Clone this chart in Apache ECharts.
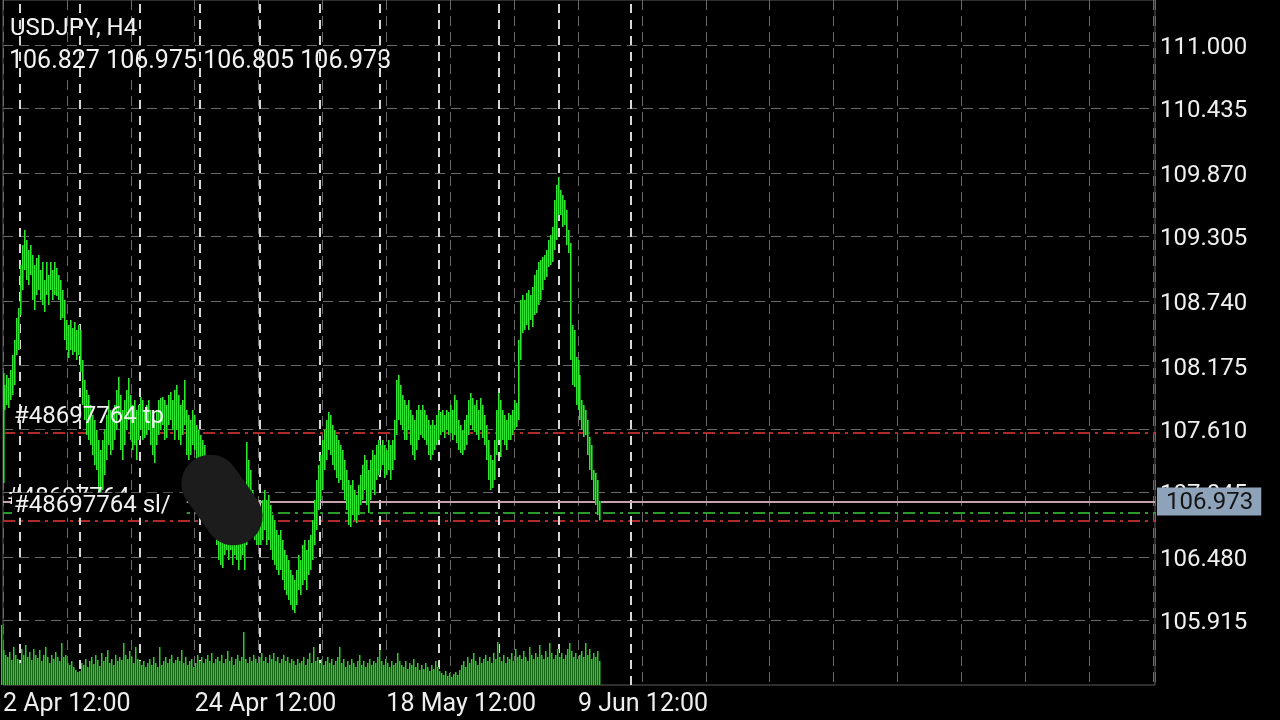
<!DOCTYPE html>
<html><head><meta charset="utf-8">
<script src="https://cdn.jsdelivr.net/npm/echarts@6/dist/echarts.min.js"></script>
<style>html,body{margin:0;padding:0;background:#000;}#c{width:1280px;height:720px;}</style>
</head><body><div id="c"></div>
<script>
const symbolName = 'USDJPY, H4';
const lastOHLC = [106.827, 106.975, 106.805, 106.973];
const highs = [
108.105,107.998,108.086,108.060,108.131,108.263,108.395,108.590,108.678,109.058,
109.234,109.367,109.278,109.190,109.234,109.146,109.058,109.119,109.146,109.013,
109.084,108.925,109.084,108.969,109.084,109.013,109.084,109.031,108.969,108.925,
108.837,108.749,108.572,108.528,108.572,108.501,108.554,108.484,108.528,108.484,
108.219,108.042,107.954,107.910,107.822,107.733,107.689,107.601,107.513,107.424,
107.513,107.601,107.733,107.866,107.777,107.689,107.822,107.954,108.069,107.910,
107.777,107.866,107.954,108.060,107.910,107.822,107.866,107.777,107.822,107.892,
107.866,107.777,107.822,107.866,107.777,107.733,107.689,107.777,107.866,107.884,
107.892,107.866,107.822,107.910,107.936,107.866,107.954,107.998,107.910,107.822,
107.866,108.042,107.777,107.733,107.689,107.777,107.733,107.645,107.601,107.557,
107.513,107.468,107.380,107.336,107.248,107.159,107.071,106.939,106.806,106.762,
106.718,106.806,106.850,106.762,106.806,106.762,106.850,106.806,106.718,106.762,
106.806,106.718,107.495,107.336,107.248,107.071,106.895,106.806,106.762,106.850,
106.983,107.071,106.983,107.027,106.939,106.850,106.806,106.718,106.674,106.718,
106.630,106.542,106.497,106.453,106.365,106.321,106.277,106.365,106.497,106.453,
106.586,106.630,106.542,106.630,106.674,106.806,106.983,107.159,107.292,107.380,
107.513,107.601,107.689,107.760,107.733,107.645,107.601,107.557,107.513,107.468,
107.424,107.336,107.248,107.159,107.115,107.159,107.071,107.027,107.115,107.204,
107.292,107.380,107.336,107.248,107.336,107.424,107.380,107.468,107.513,107.468,
107.513,107.468,107.424,107.513,107.468,107.513,107.689,108.042,108.086,107.998,
107.910,107.866,107.822,107.866,107.777,107.733,107.689,107.777,107.822,107.777,
107.822,107.777,107.733,107.689,107.645,107.689,107.645,107.733,107.777,107.760,
107.777,107.733,107.777,107.760,107.822,107.777,107.910,107.866,107.689,107.645,
107.601,107.689,107.733,107.866,107.928,107.884,107.822,107.866,107.777,107.884,
107.822,107.733,107.645,107.513,107.380,107.336,107.513,107.777,107.928,107.866,
107.777,107.733,107.689,107.751,107.733,107.777,107.866,107.839,108.395,108.749,
108.793,108.749,108.810,108.837,108.793,108.863,108.969,109.013,109.084,109.102,
109.128,109.146,109.190,109.278,109.322,109.393,109.631,109.764,109.834,109.720,
109.676,109.631,109.543,109.367,109.252,108.528,108.484,108.245,108.219,108.086,
107.866,107.822,107.777,107.689,107.539,107.468,107.248,107.221,107.159,106.975
];
const lows = [
107.133,107.777,107.822,107.795,107.866,107.910,107.998,108.263,108.307,108.616,
108.837,109.013,108.925,108.881,108.969,108.749,108.660,108.793,108.837,108.749,
108.704,108.643,108.793,108.704,108.837,108.749,108.793,108.784,108.749,108.572,
108.590,108.395,108.307,108.237,108.307,108.263,108.290,108.219,108.263,108.113,
107.822,107.689,107.557,107.513,107.468,107.380,107.292,107.248,107.027,106.956,
107.071,107.204,107.336,107.468,107.380,107.424,107.513,107.601,107.733,107.424,
107.336,107.468,107.601,107.689,107.513,107.424,107.468,107.336,107.513,107.601,
107.513,107.530,107.557,107.601,107.468,107.380,107.310,107.468,107.557,107.601,
107.645,107.513,107.530,107.645,107.689,107.601,107.513,107.601,107.513,107.468,
107.557,107.645,107.380,107.336,107.380,107.468,107.424,107.318,107.274,107.248,
107.204,107.159,107.071,106.983,106.895,106.806,106.718,106.586,106.453,106.409,
106.383,106.497,106.542,106.453,106.542,106.409,106.497,106.453,106.365,106.453,
106.497,106.365,106.586,106.983,106.806,106.718,106.630,106.586,106.586,106.586,
106.630,106.718,106.586,106.630,106.542,106.453,106.409,106.365,106.321,106.365,
106.277,106.188,106.144,106.100,106.056,106.012,105.985,106.056,106.188,106.144,
106.233,106.277,106.188,106.321,106.365,106.453,106.586,106.718,106.895,106.983,
107.071,107.248,107.336,107.424,107.380,107.292,107.248,107.177,107.133,107.159,
107.071,106.983,106.895,106.762,106.745,106.850,106.806,106.780,106.850,106.939,
106.983,107.071,106.939,106.868,106.983,107.071,107.027,107.159,107.204,107.248,
107.292,107.177,107.204,107.248,107.159,107.248,107.336,107.557,107.689,107.645,
107.601,107.513,107.513,107.601,107.468,107.380,107.336,107.424,107.513,107.557,
107.530,107.513,107.468,107.380,107.336,107.380,107.424,107.468,107.513,107.557,
107.583,107.530,107.601,107.557,107.574,107.513,107.557,107.486,107.424,107.398,
107.380,107.424,107.468,107.557,107.645,107.601,107.583,107.557,107.513,107.601,
107.530,107.468,107.336,107.159,107.071,107.089,107.159,107.380,107.513,107.362,
107.513,107.468,107.424,107.513,107.513,107.557,107.601,107.627,107.689,108.219,
108.457,108.484,108.528,108.484,108.572,108.510,108.616,108.634,108.704,108.749,
108.837,108.925,108.952,109.040,109.058,109.084,109.190,109.278,109.499,109.499,
109.393,109.411,109.234,109.164,108.219,107.998,107.980,107.822,107.777,107.689,
107.601,107.539,107.557,107.380,107.248,107.159,106.983,106.939,106.850,106.805
];
const volumes = [
6000,3500,3000,2800,3300,2500,3800,3000,2600,2200,
3600,3000,4000,2800,3300,2500,3600,3000,2700,3500,
2400,3000,3800,2800,2200,3000,2600,3300,2800,2400,
4200,2800,3000,2200,2000,2400,1800,1500,1300,1400,
2200,2000,2600,1800,2400,2800,2100,3000,2500,1900,
3200,2400,2800,3500,2200,2600,2000,3000,2400,2800,
2500,4200,3000,2600,3400,2800,2200,3800,2600,2400,
2000,2400,1800,2200,2600,2000,2800,2200,1800,3800,
2000,2400,2800,2200,2600,3000,2200,2500,2800,2400,
3500,2200,2800,2000,2400,2600,1800,2200,3000,2400,
2800,2200,2600,3000,2400,3200,2200,2600,2800,2400,
3000,2200,2600,3400,2400,2800,2000,2600,3000,2400,
2800,5300,2600,2200,2800,2400,3000,2600,2200,2800,
3200,2400,2800,2200,3000,2600,3200,2400,2800,2200,
2600,3000,2400,2800,2200,2600,2400,2000,2600,2200,
2400,2800,2000,2600,3200,2200,3800,2400,2800,2200,
2600,2000,2400,2800,2200,2600,2000,2400,2800,3800,
2200,2600,1800,2400,2000,2600,2200,1800,2400,3000,
2000,2400,1800,2200,2600,2000,2400,2200,2800,3500,
2400,2000,2600,2200,1800,2400,2000,2200,3200,2400,
2000,1800,2400,1600,2200,2000,2600,1800,2200,1500,
2000,1600,2200,1800,1400,2000,1600,2400,1800,1400,
1200,1000,1400,900,1200,800,1100,1300,1000,1500,
2000,2400,1800,2800,2200,2600,3200,2400,2000,2800,
2200,2600,3000,2400,2800,2200,3200,2600,4300,2800,
2400,3000,2200,2800,2600,3200,2400,3600,2800,3000,
2600,3400,2800,2400,3800,3000,2600,3200,2800,4000,
3000,2600,3400,2800,4200,3200,2600,3000,3600,2800,
3200,2600,3000,3600,4200,3400,2800,3200,2600,3000,
3400,2800,4200,3000,3600,2600,3200,2800,3400,2400
];
const priceLevels = [105.915, 106.480, 107.045, 107.610, 108.175, 108.740, 109.305, 109.870, 110.435, 111.000];
const timeLabelIdx = [0, 96, 192, 288];
const timeLabels = ['2 Apr 12:00', '24 Apr 12:00', '18 May 12:00', '9 Jun 12:00'];
const weekSeparators = [8.5, 38.5, 68.5, 98.5, 128.5, 158.5, 188.5, 218.5, 248.5, 278.5, 314.5];
const orderTicket = '#48697764';
const tpPrice = 107.584, slPrice = 106.798, openPrice = 106.868;
const bidPrice = lastOHLC[3];

const FONT = 'Roboto';
const BAR_GREEN = '#2ee62e', BAR_EDGE = '#138a13';
const VOL_GREEN = '#32c832', VOL_EDGE = '#126612';
const chart = echarts.init(document.getElementById('c'), null, {renderer: 'canvas'});

function rangeItem(params, api) {
  const isVol = params.seriesName === 'volume';
  const i = api.value(0);
  const a = api.coord([i, api.value(1)]);
  const b = api.coord([i, api.value(2)]);
  const x = Math.floor(a[0]);
  const y = Math.min(a[1], b[1]);
  const h = Math.max(1, Math.abs(a[1] - b[1]));
  return {type: 'group', children: [
    {type: 'rect', shape: {x: x, y: y, width: 2, height: h}, style: {fill: isVol ? VOL_EDGE : BAR_EDGE}},
    {type: 'rect', shape: {x: x, y: y, width: 1, height: h}, style: {fill: isVol ? VOL_GREEN : BAR_GREEN}}
  ]};
}

const dashDot = [12, 5, 3, 5];
const orderLabel = {show: true, position: 'insideStartTop', color: '#f2f2f2', fontSize: 24, fontFamily: FONT, formatter: p => p.name};
const option = {
  backgroundColor: '#000',
  animation: false,
  tooltip: {show: false},
  grid: [
    {left: 1, top: 0, width: 1154, height: 685, show: true, borderColor: '#5e5e5e', borderWidth: 1, backgroundColor: 'transparent'},
    {left: 1, top: 620, width: 1154, height: 65, show: false}
  ],
  xAxis: [
    {type: 'value', gridIndex: 0, min: 0, max: 577, interval: 32,
     axisLine: {show: false}, axisTick: {show: false},
     splitLine: {show: true, lineStyle: {color: '#6a6a6a', width: 1, type: [10, 6]}},
     axisLabel: {show: true, color: '#eeeeee', fontSize: 25, fontFamily: FONT, align: 'left', margin: 7,
       showMaxLabel: false,
       formatter: v => { const k = timeLabelIdx.indexOf(v); return k >= 0 ? timeLabels[k] : ''; }}},
    {type: 'value', gridIndex: 1, min: 0, max: 577, show: false}
  ],
  yAxis: [
    {type: 'value', gridIndex: 0, min: 105.35, max: 111.397, show: false, splitLine: {show: false}},
    {type: 'value', gridIndex: 1, min: 0, max: 6500, show: false, splitLine: {show: false}}
  ],
  graphic: [
    {type: 'text', x: 10, y: 29, z: 2, silent: true,
     style: {text: symbolName, fill: '#f2f2f2', font: '24px ' + FONT, align: 'left', verticalAlign: 'middle'}},
    {type: 'text', x: 9, y: 62, z: 2, silent: true,
     style: {text: lastOHLC.map(v => v.toFixed(3)).join(' '), fill: '#f2f2f2', font: '25px ' + FONT,
             align: 'left', verticalAlign: 'middle', backgroundColor: '#000'}},
    {type: 'rect', z: 9, silent: true, x: 222, y: 500, rotation: 0.62,
     shape: {x: -29, y: -49, width: 58, height: 98, r: 29}, style: {fill: '#1c1c1c'}}
  ],
  series: [
    {type: 'line', name: 'grid', data: [], z: 1, xAxisIndex: 0, yAxisIndex: 0,
     markLine: {silent: true, symbol: ['none', 'none'], animation: false,
       lineStyle: {color: '#6a6a6a', width: 1, type: [10, 6]},
       label: {show: true, position: 'end', distance: 5,
               formatter: p => '{v|' + p.name + '}',
               rich: {v: {color: '#f0f0f0', fontSize: 24, fontFamily: FONT, lineHeight: 24, padding: [6, 0, 0, 0]}}},
       emphasis: {disabled: true},
       data: priceLevels.map(v => ({yAxis: v, name: v.toFixed(3)}))}},
    {type: 'line', name: 'orders', data: [], z: 4, xAxisIndex: 0, yAxisIndex: 0,
     markLine: {silent: true, symbol: ['none', 'none'], animation: false,
       emphasis: {disabled: true},
       data: [
         {yAxis: tpPrice, name: orderTicket + ' tp', lineStyle: {color: '#b02a2a', width: 2, type: dashDot},
          label: Object.assign({}, orderLabel, {distance: [11, 3]})},
         {yAxis: openPrice, name: orderTicket, lineStyle: {color: '#2a9a2a', width: 2, type: dashDot},
          label: Object.assign({}, orderLabel, {distance: [4, 3]})},
         {yAxis: slPrice, name: orderTicket + ' sl/', lineStyle: {color: '#b02a2a', width: 2, type: dashDot},
          label: Object.assign({}, orderLabel, {distance: [9, 3], backgroundColor: '#000', padding: [1, 16, 0, 2]})}
       ]}},
    {type: 'custom', name: 'price', z: 5, xAxisIndex: 0, yAxisIndex: 0, silent: true,
     progressive: 0, animation: false,
     data: highs.map((h, i) => [i, lows[i], h]), encode: {x: 0, y: [1, 2]}, renderItem: rangeItem},
    {type: 'custom', name: 'volume', z: 5, xAxisIndex: 1, yAxisIndex: 1, silent: true,
     progressive: 0, animation: false,
     data: volumes.map((v, i) => [i, 0, v]), encode: {x: 0, y: [1, 2]}, renderItem: rangeItem},
    {type: 'line', name: 'separators', data: [], z: 6, xAxisIndex: 0, yAxisIndex: 0,
     markLine: {silent: true, symbol: ['none', 'none'], animation: false, label: {show: false},
       emphasis: {disabled: true},
       lineStyle: {color: '#d8d8d8', width: 2, type: [9, 7]},
       data: weekSeparators.map(v => ({xAxis: v}))}},
    {type: 'line', name: 'bid', data: [], z: 7, xAxisIndex: 0, yAxisIndex: 0,
     markLine: {silent: true, symbol: ['none', 'none'], animation: false,
       emphasis: {disabled: true},
       lineStyle: {color: '#c6a2ac', width: 2, type: 'solid'},
       label: {show: true, position: 'end', distance: 2,
               formatter: p => '{b|' + p.name + '}',
               rich: {b: {color: '#141414', fontSize: 24, fontFamily: FONT, lineHeight: 25,
                          backgroundColor: '#8ea3b9', padding: [4, 8, 0, 9]}}},
       data: [{yAxis: bidPrice, name: bidPrice.toFixed(3)}]}}
  ]
};
chart.setOption(option);
</script>
</body></html>
